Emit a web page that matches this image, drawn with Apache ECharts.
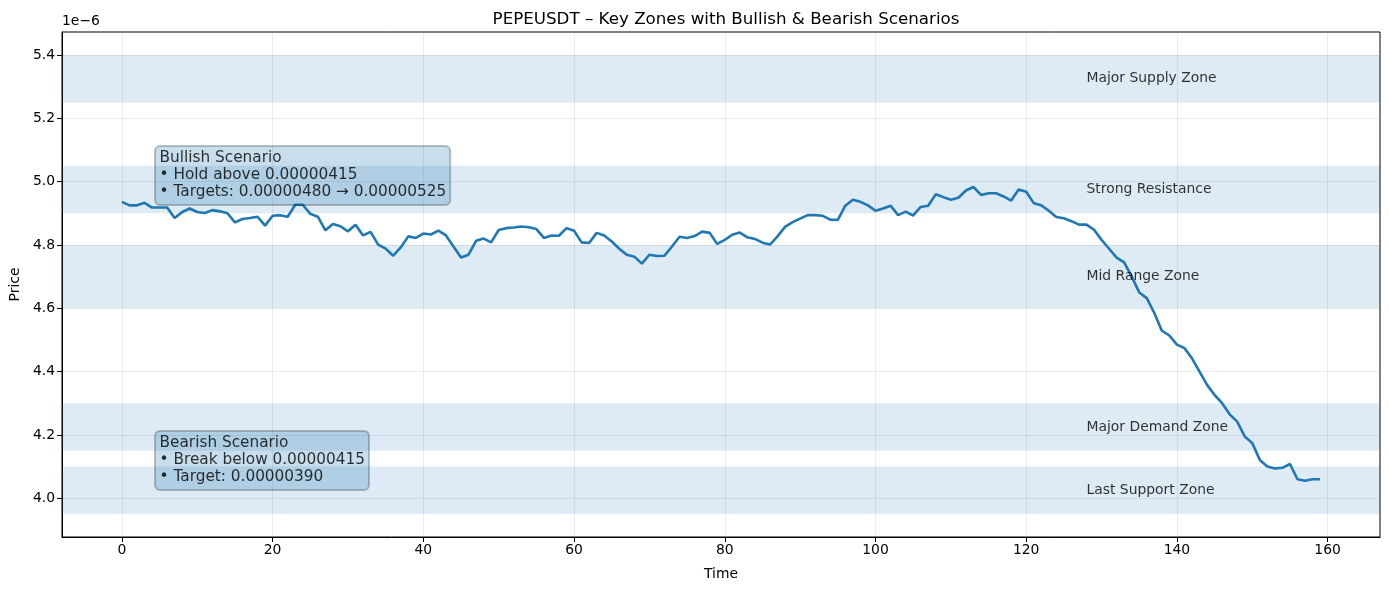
<!DOCTYPE html>
<html>
<head>
<meta charset="utf-8">
<script src="https://cdn.jsdelivr.net/npm/echarts@6/dist/echarts.min.js"></script>
<style>
html,body{margin:0;padding:0;background:#fff;}
#chart{width:1389px;height:590px;}
</style>
</head>
<body>
<div id="chart"></div>
<script>
// Price values in units of 1e-6 (USDT)
const prices = [
4.936,4.925,4.925,4.933,4.918,4.918,4.918,4.885,4.904,4.915,
4.904,4.901,4.910,4.906,4.900,4.871,4.882,4.885,4.889,4.861,
4.892,4.894,4.889,4.927,4.927,4.898,4.889,4.846,4.866,4.859,
4.843,4.864,4.830,4.841,4.801,4.788,4.766,4.792,4.827,4.822,
4.836,4.833,4.845,4.830,4.795,4.760,4.769,4.813,4.820,4.808,
4.847,4.853,4.855,4.858,4.856,4.850,4.822,4.830,4.829,4.853,
4.845,4.808,4.806,4.838,4.830,4.811,4.788,4.769,4.763,4.741,
4.769,4.765,4.766,4.795,4.826,4.822,4.828,4.842,4.838,4.803,
4.816,4.832,4.839,4.824,4.819,4.807,4.801,4.827,4.857,4.872,
4.883,4.894,4.894,4.892,4.880,4.879,4.924,4.943,4.936,4.925,
4.908,4.915,4.924,4.894,4.905,4.893,4.920,4.924,4.960,4.951,
4.943,4.949,4.972,4.983,4.958,4.963,4.963,4.953,4.940,4.975,
4.968,4.932,4.925,4.908,4.888,4.884,4.875,4.864,4.864,4.848,
4.816,4.788,4.760,4.745,4.700,4.650,4.632,4.585,4.529,4.514,
4.485,4.474,4.442,4.400,4.358,4.326,4.300,4.265,4.242,4.195,
4.174,4.121,4.100,4.094,4.096,4.108,4.060,4.055,4.060,4.060
];
const zoneNames = ['Major Supply Zone','Strong Resistance','Mid Range Zone','Major Demand Zone','Last Support Zone'];
const zoneLow  = [5.25, 4.90, 4.60, 4.15, 3.95];
const zoneHigh = [5.40, 5.05, 4.80, 4.30, 4.10];
const zoneLabelX = 128;
const xTicks = [0,20,40,60,80,100,120,140,160];
const yTicks = [4.0,4.2,4.4,4.6,4.8,5.0,5.2,5.4];
const bullishText = 'Bullish Scenario\n• Hold above 0.00000415\n• Targets: 0.00000480 → 0.00000525';
const bearishText = 'Bearish Scenario\n• Break below 0.00000415\n• Target: 0.00000390';
const bullishPos = [5, 5.10];
const bearishPos = [5, 4.20];

const FONT = 'DejaVu Sans';
const lineData = prices.map((v, i) => [i, v]);
const zoneAreas = zoneNames.map((n, k) => [{yAxis: zoneLow[k]}, {yAxis: zoneHigh[k]}]);
const zoneLabelData = zoneNames.map((n, k) => ({value: [zoneLabelX, (zoneLow[k] + zoneHigh[k]) / 2], name: n}));

const chart = echarts.init(document.getElementById('chart'), null, {renderer: 'canvas'});
const boxLabel = {
  show: true,
  position: [-4.6, -4.0],
  align: 'left',
  verticalAlign: 'top',
  fontFamily: FONT,
  fontSize: 15.3,
  lineHeight: 17,
  color: '#000',
  backgroundColor: 'rgba(31,119,180,0.3)',
  borderColor: 'rgba(0,0,0,0.3)',
  borderWidth: 1,
  borderRadius: 5,
  padding: [4, 4, 4, 4.6]
};
chart.setOption({
  animation: false,
  backgroundColor: '#fff',
  title: {
    text: 'PEPEUSDT – Key Zones with Bullish & Bearish Scenarios',
    left: 721, top: 6, textAlign: 'center',
    textStyle: {fontFamily: FONT, fontSize: 16.7, fontWeight: 'normal', color: '#000'}
  },
  graphic: [{
    type: 'text', left: 62, top: 14,
    style: {text: '1e\u22126', fontFamily: FONT, fontSize: 13.9, fill: '#000'}
  }],
  grid: {left: 62, right: 9, top: 32, bottom: 53, show: true, borderColor: '#000', borderWidth: 1, backgroundColor: 'transparent'},
  xAxis: {
    type: 'value', min: -7.95, max: 166.95,
    name: 'Time', nameLocation: 'middle', nameGap: 30,
    nameTextStyle: {fontFamily: FONT, fontSize: 13.9, color: '#000'},
    axisLine: {show: true, onZero: false, lineStyle: {color: '#000', width: 1}},
    axisTick: {show: true, length: 5, lineStyle: {color: '#000'}, customValues: xTicks},
    axisLabel: {customValues: xTicks, fontFamily: FONT, fontSize: 13.9, color: '#000', margin: 6},
    splitLine: {show: true, lineStyle: {color: 'rgba(176,176,176,0.3)', width: 0.8}}
  },
  yAxis: {
    type: 'value', min: 3.8775, max: 5.4725,
    name: 'Price', nameLocation: 'middle', nameGap: 38, nameRotate: 90,
    nameTextStyle: {fontFamily: FONT, fontSize: 13.9, color: '#000'},
    axisLine: {show: true, onZero: false, lineStyle: {color: '#000', width: 1}},
    axisTick: {show: true, length: 5, lineStyle: {color: '#000'}, customValues: yTicks},
    axisLabel: {customValues: yTicks, fontFamily: FONT, fontSize: 13.9, color: '#000', margin: 7,
      formatter: v => v.toFixed(1)},
    splitLine: {show: true, lineStyle: {color: 'rgba(176,176,176,0.3)', width: 0.8}}
  },
  series: [
    {
      type: 'line', data: lineData, showSymbol: false, symbol: 'none',
      lineStyle: {color: '#1f77b4', width: 2.6}, z: 5,
      markArea: {
        silent: true,
        itemStyle: {color: 'rgba(31,119,180,0.15)'},
        label: {show: false},
        data: zoneAreas
      }
    },
    {
      type: 'scatter', data: zoneLabelData, symbolSize: 0, z: 6, silent: true,
      label: {
        show: true, position: [0, 0], align: 'left', verticalAlign: 'middle',
        formatter: p => p.name, fontFamily: FONT, fontSize: 13.9, color: '#000'
      }
    },
    {
      type: 'scatter', symbolSize: 0, z: 7, silent: true,
      data: [{value: bullishPos, name: bullishText}, {value: bearishPos, name: bearishText}],
      label: Object.assign({formatter: p => p.name}, boxLabel)
    }
  ]
});
</script>
</body>
</html>
